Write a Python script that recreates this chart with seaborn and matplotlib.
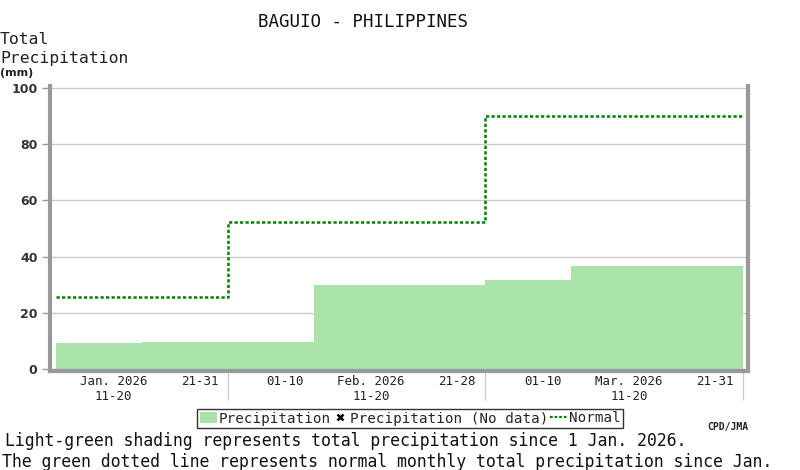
import matplotlib
matplotlib.use("Agg")
import matplotlib.pyplot as plt
from matplotlib.lines import Line2D
from matplotlib.patches import Patch
import seaborn as sns
import pandas as pd

# ---- data ----
dekads = ["11-20", "21-31", "01-10", "11-20", "21-28", "01-10", "11-20", "21-31"]
months = ["Jan. 2026", "", "", "Feb. 2026", "", "", "Mar. 2026", ""]
precip = [9.2, 9.5, 9.5, 29.8, 29.8, 31.8, 36.5, 36.5]
normal = [25.7, 25.7, 52.4, 52.4, 52.4, 90.0, 90.0, 90.0]
yticks = [0, 20, 40, 60, 80, 100]

sns.set_theme(style="white")
mono = ["DejaVu Sans Mono"]

pos = list(range(len(dekads)))
df = pd.DataFrame({"pos": pos, "precip": precip})
edges = [p - 0.5 for p in pos] + [pos[-1] + 0.5]
ndf = pd.DataFrame({"x": edges, "normal": normal + [normal[-1]]})

fig = plt.figure(figsize=(8, 4.7), dpi=100)
ax = fig.add_axes([50 / 800, 99 / 470, 698 / 800, 285 / 470])

sns.barplot(data=df, x="pos", y="precip", native_scale=True, width=1.0,
            color="#aae3aa", saturation=1, edgecolor="#aae3aa", linewidth=0,
            ax=ax, zorder=2)
for p in ax.patches:
    p.set_antialiased(False)
sns.lineplot(data=ndf, x="x", y="normal", drawstyle="steps-post", color="#008000",
             lw=1.8, dashes=False, ax=ax, zorder=3)
ax.lines[-1].set_dashes((1.3, 0.9))

ax.set_xlim(-0.57, 7.558)
ax.set_ylim(-0.71, 100.71)
ax.set_xlabel("")
ax.set_ylabel("")

# grid
ax.set_yticks(yticks)
ax.yaxis.grid(True, color="#cccccc", lw=1)
ax.set_axisbelow(True)
ax.tick_params(axis="y", length=6, width=1, color="#999999", pad=3, left=True)
for lab in ax.get_yticklabels():
    lab.set_fontweight("bold")
    lab.set_fontsize(9)
    lab.set_color("#333333")

# x labels
ax.set_xticks([p + 0.17 for p in pos])
ax.set_xticklabels([f"{m}\n{d}" if m else d for m, d in zip(months, dekads)],
                   fontsize=9, family=mono, color="#222222", linespacing=1.2)
ax.tick_params(axis="x", which="major", length=0, pad=3)
ax.set_xticks([1.5, 4.5, 7.5], minor=True)
ax.tick_params(axis="x", which="minor", length=21, width=1, color="#cccccc", bottom=True)

for s in ["left", "bottom", "right"]:
    ax.spines[s].set_visible(True)
    ax.spines[s].set_color("#999999")
    ax.spines[s].set_linewidth(3)
ax.spines["top"].set_visible(False)

# titles
fig.text(363 / 800, 1 - 22 / 470, "BAGUIO - PHILIPPINES", ha="center", va="center",
         fontsize=12.6, family=mono, color="#111111")
fig.text(0, 1 - 40 / 470, "Total", ha="left", va="center", fontsize=11.8,
         family=mono, color="#222222")
fig.text(0, 1 - 59 / 470, "Precipitation", ha="left", va="center", fontsize=11.8,
         family=mono, color="#222222")
fig.text(0, 1 - 73 / 470, "(mm)", ha="left", va="center", fontsize=8,
         fontweight="bold", color="#222222")

# legend
handles = [Patch(facecolor="#aae3aa", edgecolor="none"),
           Line2D([], [], marker="x", color="black", lw=0, markersize=4, mew=1.8),
           Line2D([], [], color="#008000", lw=1.5, dashes=(1.3, 0.9))]
labels = ["Precipitation", "Precipitation (No data)", "Normal"]
leg = fig.legend(handles, labels, loc="center", bbox_to_anchor=(410 / 800, 1 - 418.5 / 470),
                 ncol=3, frameon=True, fancybox=False, prop={"family": mono, "size": 10.3},
                 handlelength=1.2, handletextpad=0.1, columnspacing=0.1,
                 borderpad=0.2, borderaxespad=0)
leg.get_frame().set_edgecolor("black")
leg.get_frame().set_linewidth(1)

fig.text(748 / 800, 1 - 427 / 470, "CPD/JMA", ha="right", va="center", fontsize=7,
         fontweight="bold", family=mono, color="#222222")
fig.text(5 / 800, 1 - 441 / 470,
         "Light-green shading represents total precipitation since 1 Jan. 2026.",
         ha="left", va="center", fontsize=11.9, family=mono, color="#111111")
fig.text(2 / 800, 1 - 462 / 470,
         "The green dotted line represents normal monthly total precipitation since Jan.",
         ha="left", va="center", fontsize=11.9, family=mono, color="#111111")

fig.savefig("out.png", dpi=100)
